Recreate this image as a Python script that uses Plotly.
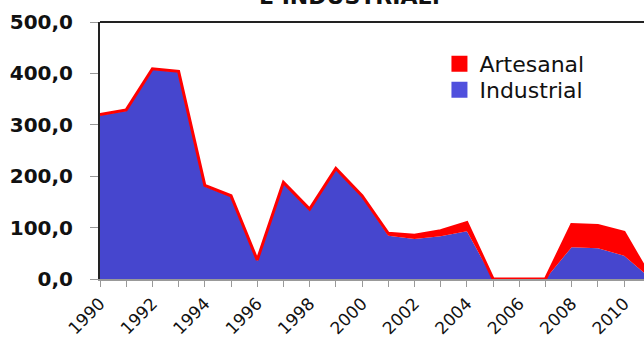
import plotly.graph_objects as go

years = list(range(1990, 2012))
industrial = [318, 327, 407, 402, 180, 160, 35, 186, 134, 213, 160, 84, 78, 83, 93, 0, 0, 0, 62, 60, 45, 2]
artesanal = [2, 2, 2, 2, 2, 2, 2, 2, 2, 2, 2, 5, 7, 11, 17, 0, 0, 0, 44, 44, 46, 1]
y_ticks = [0, 100, 200, 300, 400, 500]
y_tick_labels = ["0,0", "100,0", "200,0", "300,0", "400,0", "500,0"]

BLUE = "#4646CE"
RED = "#FF0000"

fig = go.Figure()
fig.add_trace(go.Scatter(
    x=years, y=industrial, stackgroup="s", mode="lines",
    line=dict(width=0, color=BLUE), fillcolor=BLUE, name="Industrial",
    showlegend=False, hoverinfo="skip"))
fig.add_trace(go.Scatter(
    x=years, y=artesanal, stackgroup="s", mode="lines",
    line=dict(width=3, color=RED), fillcolor=RED, name="Artesanal",
    showlegend=False, hoverinfo="skip"))
# legend entries
fig.add_trace(go.Scatter(x=[None], y=[None], mode="markers", name="Artesanal",
                         marker=dict(symbol="square", size=16, color=RED), legend="legend"))
fig.add_trace(go.Scatter(x=[None], y=[None], mode="markers", name="Industrial",
                         marker=dict(symbol="square", size=16, color="#5050DD"), legend="legend2"))

leg_common = dict(xanchor="left", yanchor="top",
                  font=dict(size=22, family="DejaVu Sans", color="#111"),
                  bgcolor="rgba(0,0,0,0)", borderwidth=0, itemsizing="trace")

fig.update_layout(
    width=644, height=339,
    margin=dict(l=100, r=0, t=22, b=60, autoexpand=False),
    plot_bgcolor="white", paper_bgcolor="white",
    font=dict(family="DejaVu Sans", color="#111"),
    legend=dict(x=0.624, y=0.918, **leg_common),
    legend2=dict(x=0.624, y=0.817, **leg_common),
    annotations=[dict(text="<b>E INDUSTRIAL:</b>", x=(349 - 100) / 544, xref="paper",
                      y=1.0444, yref="paper",
                      xanchor="center", yanchor="bottom", showarrow=False,
                      font=dict(size=22, family="DejaVu Sans", color="#111"))],
    shapes=[dict(type="line", xref="paper", yref="paper", x0=0, x1=1, y0=1, y1=1,
                 line=dict(color="#222", width=2))],
)

fig.update_xaxes(
    range=[1990, 2010.76], tickmode="linear", tick0=1990, dtick=2,
    tickangle=-45, ticks="outside", ticklen=6, tickcolor="#999",
    showline=True, linecolor="#999", linewidth=2, automargin=False,
    minor=dict(dtick=1, ticks="outside", ticklen=6, tickcolor="#999"),
    tickfont=dict(size=17, family="DejaVu Sans", color="#111"),
    showgrid=False, zeroline=False)
fig.update_yaxes(
    range=[0, 500], tickmode="array", tickvals=y_ticks, ticktext=y_tick_labels,
    ticks="outside", ticklen=8, tickcolor="#999", ticklabelstandoff=13,
    showline=True, linecolor="#222", linewidth=2, mirror=False, automargin=False,
    tickfont=dict(size=20, family="DejaVu Sans", color="#111", weight="bold"),
    showgrid=False, zeroline=False)

fig.write_html("out.html", config={"displayModeBar": False},
               post_script="document.body.style.margin='0';")
